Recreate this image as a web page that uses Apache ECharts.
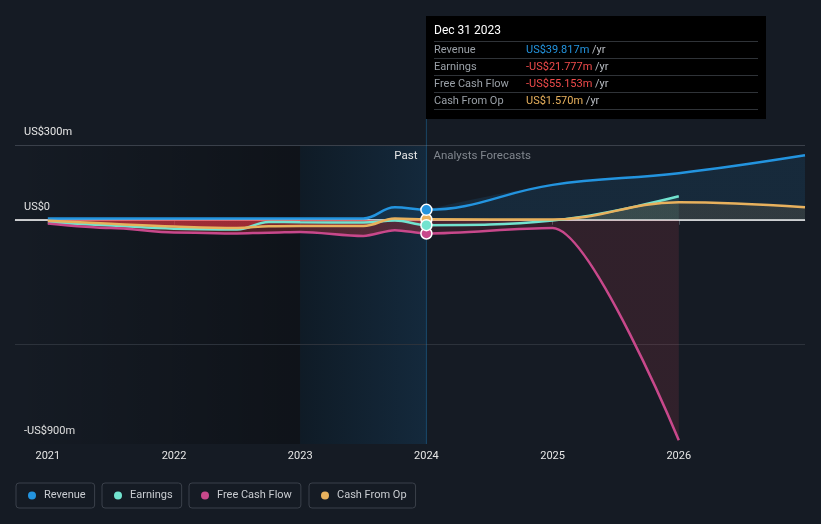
<!DOCTYPE html>
<html><head><meta charset="utf-8">
<script src="https://cdn.jsdelivr.net/npm/echarts@6/dist/echarts.min.js"></script>
<style>html,body{margin:0;padding:0;background:#151b24;}#c{width:821px;height:524px;}</style>
</head><body><div id="c"></div>
<script>
// ---- data ----
const seriesNames = ['Revenue', 'Earnings', 'Free Cash Flow', 'Cash From Op'];
const years        = [2021, 2021.5, 2022, 2022.5, 2022.75, 2023, 2023.5, 2023.75, 2024, 2025, 2026, 2027];
const revenue      = [5, 5, 5, 5, 5, 5, 5, 50, 39.817, 140, 187, 259];
const earnings     = [-11, -23, -36, -39, -9, -10, -11, -3, -21.777, -3, 94, null];
const freeCashFlow = [-15, -33, -51, -55, -52, -49, -65, -42, -55.153, -33, -885, null];
const cashFromOp   = [-4, -16, -27, -33, -26, -25, -25, 5, 1.57, 1, 70, 50];
const xTickYears   = [2021, 2022, 2023, 2024, 2025, 2026];
const yTickValues  = [300, 0, -900];
const gridLineValues = [300, -500];
const pastStart = 2020.74, pastBandStart = 2023, presentYear = 2024, axisEnd = 2027;
const tooltipDate = 'Dec 31 2023';

// ---- styles ----
const colors = ['#2394df', '#72e3cf', '#c8488b', '#e8b15d'];
const negColor = '#f04b4b';
const allData = [revenue, earnings, freeCashFlow, cashFromOp];

function pairs(arr, part) {
  return years.map((x, i) => {
    if (arr[i] == null) return null;
    if (part === 'past' && x > presentYear) return null;
    if (part === 'fore' && x < presentYear) return null;
    return [x, arr[i]];
  }).filter(p => p);
}
function fmtAxis(v) { return v === 0 ? 'US$0' : (v < 0 ? '-' : '') + 'US$' + Math.abs(v) + 'm'; }
function fmtVal(v) { return (v < 0 ? '-' : '') + 'US$' + Math.abs(v).toFixed(3) + 'm'; }

const chart = echarts.init(document.getElementById('c'));
const baseFont = 'Roboto, "Noto Sans", sans-serif';

function smoothOpts(i) { return i === 2 ? { smooth: 0.3, smoothMonotone: 'x' } : { smooth: 0.4 }; }
// full lines
const lineSeries = seriesNames.map((n, i) => Object.assign({
  name: n, type: 'line', data: pairs(allData[i], 'all'),
  showSymbol: false, symbol: 'none',
  lineStyle: { color: colors[i], width: 2.5 },
  itemStyle: { color: colors[i] },
  z: 5 + i
}, smoothOpts(i)));
// area fills (past / forecast), no visible line
function areaSeries(i, part) {
  return Object.assign({
    name: seriesNames[i], type: 'line', data: pairs(allData[i], part),
    showSymbol: false, symbol: 'none', silent: true,
    lineStyle: { width: 0, opacity: 0 },
    itemStyle: { color: colors[i] },
    z: 2
  }, smoothOpts(i));
}
const pastAreas = seriesNames.map((n, i) => areaSeries(i, 'past'));
const foreAreas = seriesNames.map((n, i) => areaSeries(i, 'fore'));
const idx = years.indexOf(presentYear);
const markerSeries = seriesNames.map((n, i) => ({
  name: n, type: 'scatter', data: [[presentYear, allData[i][idx]]],
  symbol: 'circle', symbolSize: 11,
  itemStyle: { color: colors[i], borderColor: '#ffffff', borderWidth: 1.5, opacity: 1 },
  z: 12 + (3 - i)
}));
// helper lines & shading attached to the revenue line
lineSeries[0].markArea = {
  silent: true, z: 1,
  data: [
    [{ xAxis: pastStart, itemStyle: { color: new echarts.graphic.LinearGradient(0, 0, 1, 0, [{ offset: 0, color: 'rgba(0,0,0,0)' }, { offset: 1, color: 'rgba(0,0,0,0.3)' }]) } }, { xAxis: pastBandStart }],
    [{ xAxis: pastBandStart, itemStyle: { color: new echarts.graphic.LinearGradient(0, 0, 1, 0, [{ offset: 0, color: '#0f1b26' }, { offset: 1, color: '#14293c' }]) } }, { xAxis: presentYear }]
  ]
};
lineSeries[0].markLine = {
  silent: true, symbol: 'none', z: 1, label: { show: false },
  data: [
    { yAxis: gridLineValues[0], lineStyle: { color: '#3a404a', width: 1, type: 'solid' } },
    { yAxis: gridLineValues[1], lineStyle: { color: '#2c323b', width: 1, type: 'solid' } },
    { yAxis: 0, lineStyle: { color: '#ffffff', width: 1.5, type: 'solid' } }
  ]
};

const legendLefts = [16, 102, 189, 309];
const option = {
  backgroundColor: '#151b24',
  animation: false,
  textStyle: { fontFamily: baseFont },
  grid: { left: 15, right: 16, top: 145, bottom: 80 },
  xAxis: {
    type: 'value', min: pastStart, max: axisEnd,
    splitLine: { show: false },
    axisLine: { lineStyle: { color: '#3b414b' } },
    axisTick: { show: true, customValues: xTickYears, length: 5, lineStyle: { color: '#4a505a' } },
    axisLabel: { customValues: xTickYears, formatter: v => String(v), color: '#e6e6e6', fontSize: 11, margin: 7, fontFamily: baseFont }
  },
  yAxis: {
    type: 'value', min: -900, max: 300,
    splitLine: { show: false }, axisLine: { show: false }, axisTick: { show: false },
    axisLabel: { customValues: yTickValues, inside: true, margin: 9, verticalAlign: 'bottom', padding: [0, 0, 6, 0], lineHeight: 13, color: '#e6e6e6', fontSize: 11, formatter: fmtAxis, fontFamily: baseFont }
  },
  legend: seriesNames.map((n, i) => ({
    data: [n], left: legendLefts[i], top: 483, icon: 'circle', itemWidth: 8, itemHeight: 8, itemGap: 0,
    padding: [6, 9, 6, 12], borderColor: '#3a404a', borderWidth: 1, borderRadius: 3, selectedMode: false,
    textStyle: { color: '#c9ccd1', fontSize: 11, lineHeight: 13, padding: [0, 0, 0, 3], fontFamily: baseFont }
  })),
  series: lineSeries.concat(pastAreas, foreAreas, markerSeries)
};
chart.setOption(option);

// ---- second pass: fills & annotations computed from the axes ----
const H = chart.getHeight();
const zeroY = chart.convertToPixel({ yAxisIndex: 0 }, 0);
const f = zeroY / H;
function grad(pos, neg) {
  return new echarts.graphic.LinearGradient(0, 0, 0, H, [
    { offset: 0, color: pos }, { offset: f, color: pos }, { offset: f, color: neg }, { offset: 1, color: neg }], true);
}
const posFill = ['rgba(35,148,223,0.12)', 'rgba(114,227,207,0.10)', 'rgba(200,72,139,0.1)', 'rgba(232,177,93,0.12)'];
const negFillPast = 'rgba(230,55,65,0.3)';
const negFillFore = 'rgba(235,70,90,0.13)';
const pX = chart.convertToPixel({ xAxisIndex: 0 }, presentYear);
const pTop = chart.convertToPixel({ yAxisIndex: 0 }, 300);
const pBottom = chart.convertToPixel({ yAxisIndex: 0 }, -900);

const tipRows = seriesNames.map((n, i) => {
  const v = allData[i][idx];
  return { name: n, text: fmtVal(v), color: v < 0 ? negColor : colors[i] };
});
const tipX = 426, tipY = 16, tipW = 340, tipH = 103;
const graphics = [
  { type: 'line', silent: true, z: 3, shape: { x1: pX, y1: tipY + tipH, x2: pX, y2: pBottom }, style: { stroke: 'rgba(35,148,223,0.35)', lineWidth: 1 } },
  { type: 'text', silent: true, z: 10, x: pX - 9, y: pTop + 11, style: { text: 'Past', fill: '#e8e8e8', font: '11.5px ' + baseFont, textAlign: 'right', textVerticalAlign: 'middle' } },
  { type: 'text', silent: true, z: 10, x: pX + 7, y: pTop + 11, style: { text: 'Analysts Forecasts', fill: '#80868e', font: '11.5px ' + baseFont, textAlign: 'left', textVerticalAlign: 'middle' } },
  { type: 'rect', silent: true, z: 20, shape: { x: tipX, y: tipY, width: tipW, height: tipH }, style: { fill: '#000000' } },
  { type: 'text', silent: true, z: 21, x: tipX + 8, y: tipY + 15, style: { text: tooltipDate, fill: '#ffffff', font: '12px ' + baseFont, textVerticalAlign: 'middle' } }
];
for (let r = 0; r < 5; r++) {
  graphics.push({ type: 'line', silent: true, z: 21, shape: { x1: tipX + 8, y1: tipY + 25.5 + r * 17, x2: tipX + tipW - 8, y2: tipY + 25.5 + r * 17 }, style: { stroke: '#2f3338', lineWidth: 1 } });
}
tipRows.forEach((row, r) => {
  const cy = tipY + 34 + r * 17;
  graphics.push({ type: 'text', silent: true, z: 21, x: tipX + 8, y: cy, style: { text: row.name, fill: '#9aa0a7', font: '11px ' + baseFont, textVerticalAlign: 'middle' } });
  graphics.push({ type: 'text', silent: true, z: 21, x: tipX + 100, y: cy, style: {
    text: '{v|' + row.text + '} {u|/yr}', textVerticalAlign: 'middle', font: '11px ' + baseFont,
    rich: { v: { fill: row.color, font: '11px ' + baseFont }, u: { fill: '#b8bcc2', font: '11px ' + baseFont } } } });
});

chart.setOption({
  series: lineSeries.map(() => ({}))
    .concat(pastAreas.map((s, i) => ({ areaStyle: { color: grad(posFill[i], negFillPast), opacity: 1 } })))
    .concat(foreAreas.map((s, i) => ({ areaStyle: { color: grad(posFill[i], negFillFore), opacity: 1 } }))),
  graphic: graphics
});
</script></body></html>
